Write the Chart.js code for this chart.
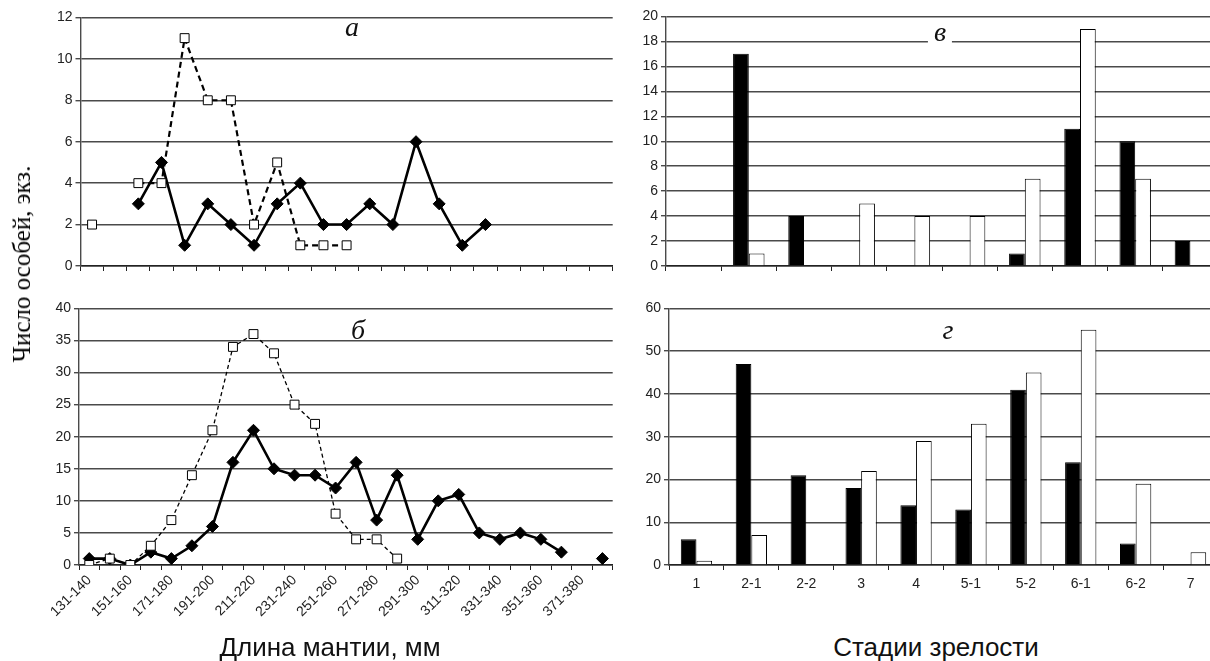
<!DOCTYPE html>
<html lang="ru">
<head>
<meta charset="utf-8">
<script src="https://cdn.jsdelivr.net/npm/chart.js@4.4.1/dist/chart.umd.min.js"></script>
<style>
  html, body { margin: 0; padding: 0; background: #fff; overflow: hidden; }
  body { width: 1210px; height: 661px; position: relative; }
  canvas { position: absolute; }
  .letter {
    position: absolute; font-family: "Liberation Serif", serif; font-style: italic;
    font-size: 28px; line-height: 1; transform: translate(-50%, -50%); color: #111;
  }
  .xtitle {
    position: absolute; font-family: "Liberation Sans", Arial, sans-serif;
    font-size: 26px; color: #111; transform: translate(-50%, -50%); white-space: nowrap;
  }
  #ytitle {
    position: absolute; left: 22px; top: 264px; font-family: "Liberation Serif", serif;
    font-size: 25px; color: #000; white-space: nowrap;
    transform: translate(-50%, -50%) rotate(-90deg);
  }
</style>
</head>
<body>
<canvas id="chartA" width="590" height="280" style="left:30px;top:6px"></canvas>
<canvas id="chartB" width="590" height="335" style="left:30px;top:297px"></canvas>
<canvas id="chartV" width="612" height="280" style="left:606px;top:5px"></canvas>
<canvas id="chartG" width="612" height="300" style="left:606px;top:297px"></canvas>

<div class="letter" style="left:352px;top:27px">а</div>
<div class="letter" style="left:358px;top:330px">б</div>
<div class="letter" style="left:940px;top:32px;background:#fff;padding:0 6px">в</div>
<div class="letter" style="left:948px;top:330px">г</div>

<div id="ytitle">Число особей, экз.</div>
<div class="xtitle" style="left:330px;top:647px">Длина мантии, мм</div>
<div class="xtitle" style="left:936px;top:647px">Стадии зрелости</div>

<script>
// Длина мантии (панель а — подписи скрыты)
const lengthA = ['131-140','141-150','151-160','161-170','171-180','181-190','191-200','201-210',
  '211-220','221-230','231-240','241-250','251-260','261-270','271-280','281-290','291-300',
  '301-310','311-320','321-330','331-340','341-350','351-360'];
const blackA = [null, null, 3, 5, 1, 3, 2, 1, 3, 4, 2, 2, 3, 2, 6, 3, 1, 2, null, null, null, null, null];
const whiteA = [2, null, 4, 4, 11, 8, 8, 2, 5, 1, 1, 1, null, null, null, null, null, null, null, null, null, null, null];

// Длина мантии (панель б)
const lengthB = ['131-140','141-150','151-160','161-170','171-180','181-190','191-200','201-210',
  '211-220','221-230','231-240','241-250','251-260','261-270','271-280','281-290','291-300',
  '301-310','311-320','321-330','331-340','341-350','351-360','361-370','371-380','381-390'];
const blackB = [1, 1, 0, 2, 1, 3, 6, 16, 21, 15, 14, 14, 12, 16, 7, 14, 4, 10, 11, 5, 4, 5, 4, 2, null, 1];
const whiteB = [0, 1, 0, 3, 7, 14, 21, 34, 36, 33, 25, 22, 8, 4, 4, 1, null, null, null, null, null, null, null, null, null, null];

// Стадии зрелости
const stages = ['1', '2-1', '2-2', '3', '4', '5-1', '5-2', '6-1', '6-2', '7'];
const blackV = [null, 17, 4, null, null, null, 1, 11, 10, 2];
const whiteV = [null, 1, null, 5, 4, 4, 7, 19, 7, null];
const blackG = [6, 47, 21, 18, 14, 13, 41, 24, 5, null];
const whiteG = [1, 7, null, 22, 29, 33, 45, 55, 19, 3];

Chart.defaults.font.family = '"Liberation Sans", Arial, sans-serif';
Chart.defaults.font.size = 13;
Chart.defaults.color = '#222';
Chart.defaults.animation = false;

const GRID = '#4a4a4a';

function yScale(max, step, width) {
    return {
        min: 0, max: max,
        ticks: { stepSize: step, padding: 3, font: { size: 14 } },
        grid: { color: GRID, lineWidth: 1.4, tickLength: 5 },
        border: { color: GRID, width: 1.4 },
        afterFit: s => { s.width = width; }
    };
}

function xScale(height, showLabels, rotated) {
    return {
        offset: true,
        grid: { offset: true, drawOnChartArea: false, color: '#222', tickLength: 5 },
        border: { color: '#222', width: 1.4 },
        ticks: showLabels
            ? (rotated
                ? { autoSkip: false, minRotation: 45, maxRotation: 45, padding: 2, font: { size: 14 },
                    callback: function(v, i) { return i % 2 === 0 ? this.getLabelForValue(v) : ''; } }
                : { autoSkip: false, padding: 6, font: { size: 14 } })
            : { display: false },
        afterFit: s => { s.height = height; }
    };
}

const baseOpts = {
    responsive: false,
    devicePixelRatio: 1,
    layout: { padding: { top: 10, left: 0, right: 0, bottom: 0 } },
    plugins: { legend: { display: false }, tooltip: { enabled: false } }
};

function lineChart(id, labels, black, white, ymax, step, yw, xh, showX, dashW, dash) {
    new Chart(document.getElementById(id), {
        type: 'line',
        data: {
            labels: labels,
            datasets: [{
                data: white,
                borderColor: '#000', borderWidth: dashW, borderDash: dash,
                pointStyle: 'rect', pointRadius: 6.3, pointBackgroundColor: '#fff',
                pointBorderColor: '#000', pointBorderWidth: 1, spanGaps: false
            }, {
                data: black,
                borderColor: '#000', borderWidth: 2.6,
                pointStyle: 'rectRot', pointRadius: 6, pointBackgroundColor: '#000',
                pointBorderColor: '#000', pointBorderWidth: 1, spanGaps: false
            }]
        },
        options: Object.assign({}, baseOpts, {
            scales: { x: xScale(xh, showX, true), y: yScale(ymax, step, yw) }
        })
    });
}

function barChart(id, black, white, ymax, step, yw, xh, showX) {
    new Chart(document.getElementById(id), {
        type: 'bar',
        data: {
            labels: stages,
            datasets: [
                { data: black, backgroundColor: '#000', borderColor: '#000', borderWidth: 1 },
                { data: white, backgroundColor: '#fff', borderColor: '#000', borderWidth: 1 }
            ]
        },
        options: Object.assign({}, baseOpts, {
            datasets: { bar: { categoryPercentage: 0.57, barPercentage: 1.0 } },
            scales: { x: xScale(xh, showX, false), y: yScale(ymax, step, yw) }
        })
    });
}

lineChart('chartA', lengthA, blackA, whiteA, 12, 2, 50.5, 20, false, 2.2, [6, 4]);
lineChart('chartB', lengthB, blackB, whiteB, 40, 5, 49, 67, true, 1.3, [4, 3]);
barChart('chartV', blackV, whiteV, 20, 2, 60, 19, false);
barChart('chartG', blackG, whiteG, 60, 10, 63, 32, true);
</script>
</body>
</html>
